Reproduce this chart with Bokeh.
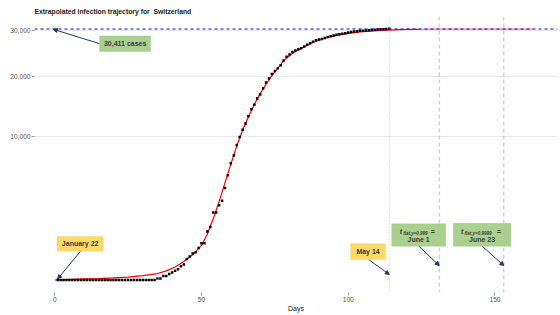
import numpy as np
from bokeh.plotting import figure
from bokeh.models import (Range1d, FixedTicker, CustomJSTickFormatter, Span, Arrow,
                          NormalHead, BoxAnnotation, Label, ColumnDataSource)
from bokeh.embed import file_html
from bokeh.resources import INLINE

# ---------------- data ----------------
days = list(range(1, 115))
cases = [0] * 34 + [
    1, 1, 8, 8, 18,
    27, 42, 56, 90, 114, 214, 268, 337, 374, 491, 652, 652, 1139, 1359, 2200, 2200,
    2700, 3028, 4075, 5294, 6575, 7474, 8795, 9877, 10897, 11811, 12928, 14076, 14829,
    15922, 16605,
    17768, 18827, 19606, 20505, 21100, 21657, 22253, 23280, 24051, 24551, 25107, 25415,
    25688, 25936, 26336, 26732, 27078, 27404, 27740, 27944, 28063, 28268, 28496, 28677,
    28894, 29061, 29164, 29264, 29407, 29586,
    29705, 29817, 29905, 29981, 30009, 30060, 30126, 30207, 30251, 30305, 30344, 30380,
    30413, 30463]

fit_days = [0, 10, 15, 20, 25, 30, 35, 38, 41, 44, 47, 50, 52, 54, 56, 58, 60, 62, 64,
            66, 68, 70, 72, 74, 76, 78, 81, 84, 88, 92, 96, 100, 105, 110, 115, 120, 124]
fit_vals = [0, 0.5, 1, 2, 4, 9, 20, 40, 81, 164, 306, 576, 1024, 1806, 2970, 4556, 6480,
            8649, 10816, 12882, 14884, 16770, 18496, 20164, 21609, 23256, 24806, 25921,
            27225, 28224, 28900, 29378, 29756, 30033, 30206, 30311, 30350]
ext_days = [124, 130, 140, 150, 163]
ext_vals = [30350, 30380, 30408, 30411, 30411]

final_size = 30411
y_tick_vals = [10000, 20000, 30000]
x_tick_vals = [0, 50, 100, 150]
day_may14, day_june1, day_june23 = 114, 131, 153

# ---------------- figure ----------------
p = figure(width=560, height=315, output_backend="svg", toolbar_location=None,
           x_range=Range1d(-6.9, 171.3), y_range=Range1d(-8.7, 183.1),
           title="Extrapolated infection trajectory for\u00a0 Switzerland")
p.min_border_left = 34
p.min_border_right = 3
p.min_border_top = 16
p.min_border_bottom = 23
p.outline_line_color = None
p.background_fill_color = "white"

FONT = "Liberation Sans"
p.title.text_font = FONT
p.title.text_font_size = "6.8px"
p.title.text_font_style = "bold"
p.title.text_color = "#1a1a1a"
p.title.standoff = 3

p.xaxis.ticker = FixedTicker(ticks=x_tick_vals)
p.yaxis.ticker = FixedTicker(ticks=[float(np.sqrt(v)) for v in y_tick_vals])
p.yaxis.formatter = CustomJSTickFormatter(
    code="return Math.round(tick*tick).toLocaleString('en-US');")
p.xaxis.axis_label = "Days"
for ax in (p.xaxis[0], p.yaxis[0]):
    ax.axis_line_color = None
    ax.major_tick_line_color = "#9a9a9a"
    ax.major_tick_out = 3
    ax.major_tick_in = 0
    ax.minor_tick_line_color = None
    ax.major_label_text_font = FONT
    ax.major_label_text_font_size = "6.6px"
    ax.major_label_text_color = "#555555"
    ax.major_label_standoff = 1
    ax.axis_label_text_font = FONT
    ax.axis_label_text_font_size = "7px"
    ax.axis_label_text_font_style = "normal"
    ax.axis_label_text_color = "#1a1a1a"
    ax.axis_label_standoff = 0
p.xgrid.visible = False
p.ygrid.grid_line_color = "#e8e8e8"
p.ygrid.grid_line_width = 1

# y-axis title, placed just left of the tick labels
p.add_layout(Label(x=-28, y=138, x_units="screen", y_units="screen",
                   text="Cumulative number of infected cases", angle=np.pi / 2,
                   text_font=FONT, text_font_size="7px", text_color="#1a1a1a",
                   text_align="center", text_baseline="middle"))

# ---------------- marks ----------------
fit_src = ColumnDataSource(dict(x=fit_days, s=np.sqrt(fit_vals)))
ext_src = ColumnDataSource(dict(x=ext_days, s=np.sqrt(ext_vals)))
pts_src = ColumnDataSource(dict(x=days, s=np.sqrt(cases)))

p.line("x", "s", source=fit_src, line_color="red", line_width=1.2)
p.line("x", "s", source=ext_src, line_color="red", line_width=1.2, line_alpha=0.5)
p.scatter("x", "s", source=pts_src, marker="square", size=2.5,
          fill_color="black", line_color=None)

# reference lines
p.add_layout(Span(location=day_may14, dimension="height", line_color="#cccccc",
                  line_dash="1 2", line_width=1))
for d in (day_june1, day_june23):
    p.add_layout(Span(location=d, dimension="height", line_color="#ee82ee",
                      line_dash="4 3", line_width=1, line_alpha=0.8))
p.add_layout(Span(location=float(np.sqrt(final_size)), dimension="width",
                  line_color="blue", line_alpha=0.5, line_width=2, line_dash="3 3"))

# ---------------- annotations ----------------
NAVY = "#1f3864"
GREEN_F, GREEN_L = "#a9d08e", "#8fc072"
YEL_F, YEL_L = "#ffd966", "#f5c34c"
TXT = "#3a3a3a"


def arrow(x0, y0, x1, y1):
    p.add_layout(Arrow(end=NormalHead(size=4, fill_color=NAVY, line_color=NAVY),
                       x_start=x0, y_start=y0, x_end=x1, y_end=y1,
                       line_color=NAVY, line_width=1))


def box(l, r, b, t, fc, lc):
    p.add_layout(BoxAnnotation(left=l, right=r, bottom=b, top=t, fill_color=fc,
                               fill_alpha=1, line_color=lc, line_width=1, level="annotation"))


def label(x, y, text, size="7px", style="bold", xo=0, yo=0, align="center"):
    p.add_layout(Label(x=x, y=y, text=text, x_offset=xo, y_offset=yo,
                       text_font=FONT, text_font_size=size, text_font_style=style,
                       text_color=TXT, text_align=align, text_baseline="middle"))


# 30,411 cases
arrow(15.3, 164.2, -0.5, 174.2)
box(15.3, 32.6, 158.7, 169.6, GREEN_F, GREEN_L)
label(24.0, 164.1, "30,411 cases")

# January 22
arrow(8.8, 20.0, 1.0, 0.8)
box(0.8, 16.5, 20.0, 30.2, YEL_F, YEL_L)
label(8.65, 25.1, "January 22")

# May 14
arrow(106.8, 14.4, 114.0, 3.8)
box(100.8, 112.7, 14.2, 25.1, YEL_F, YEL_L)
label(106.75, 19.6, "May 14")

# t_flat boxes
arrow(124.1, 23.4, 131.0, 10.0)
box(114.8, 133.2, 23.4, 39.0, GREEN_F, GREEN_L)
label(124.0, 33.6, "t", style="bold italic", xo=-19, align="left")
label(124.0, 33.6, "flat,y=0.999", size="4.5px", style="bold italic", xo=-15.5, yo=-2, align="left")
label(124.0, 33.6, "=", xo=12, align="left")
label(124.0, 28.0, "June 1")

arrow(145.7, 23.4, 153.0, 10.0)
box(135.8, 155.4, 23.4, 39.4, GREEN_F, GREEN_L)
label(145.6, 33.8, "t", style="bold italic", xo=-21, align="left")
label(145.6, 33.8, "flat,y=0.9999", size="4.5px", style="bold italic", xo=-17.5, yo=-2, align="left")
label(145.6, 33.8, "=", xo=15, align="left")
label(145.6, 28.0, "June 23")

open("out.html", "w").write(file_html(p, INLINE))
